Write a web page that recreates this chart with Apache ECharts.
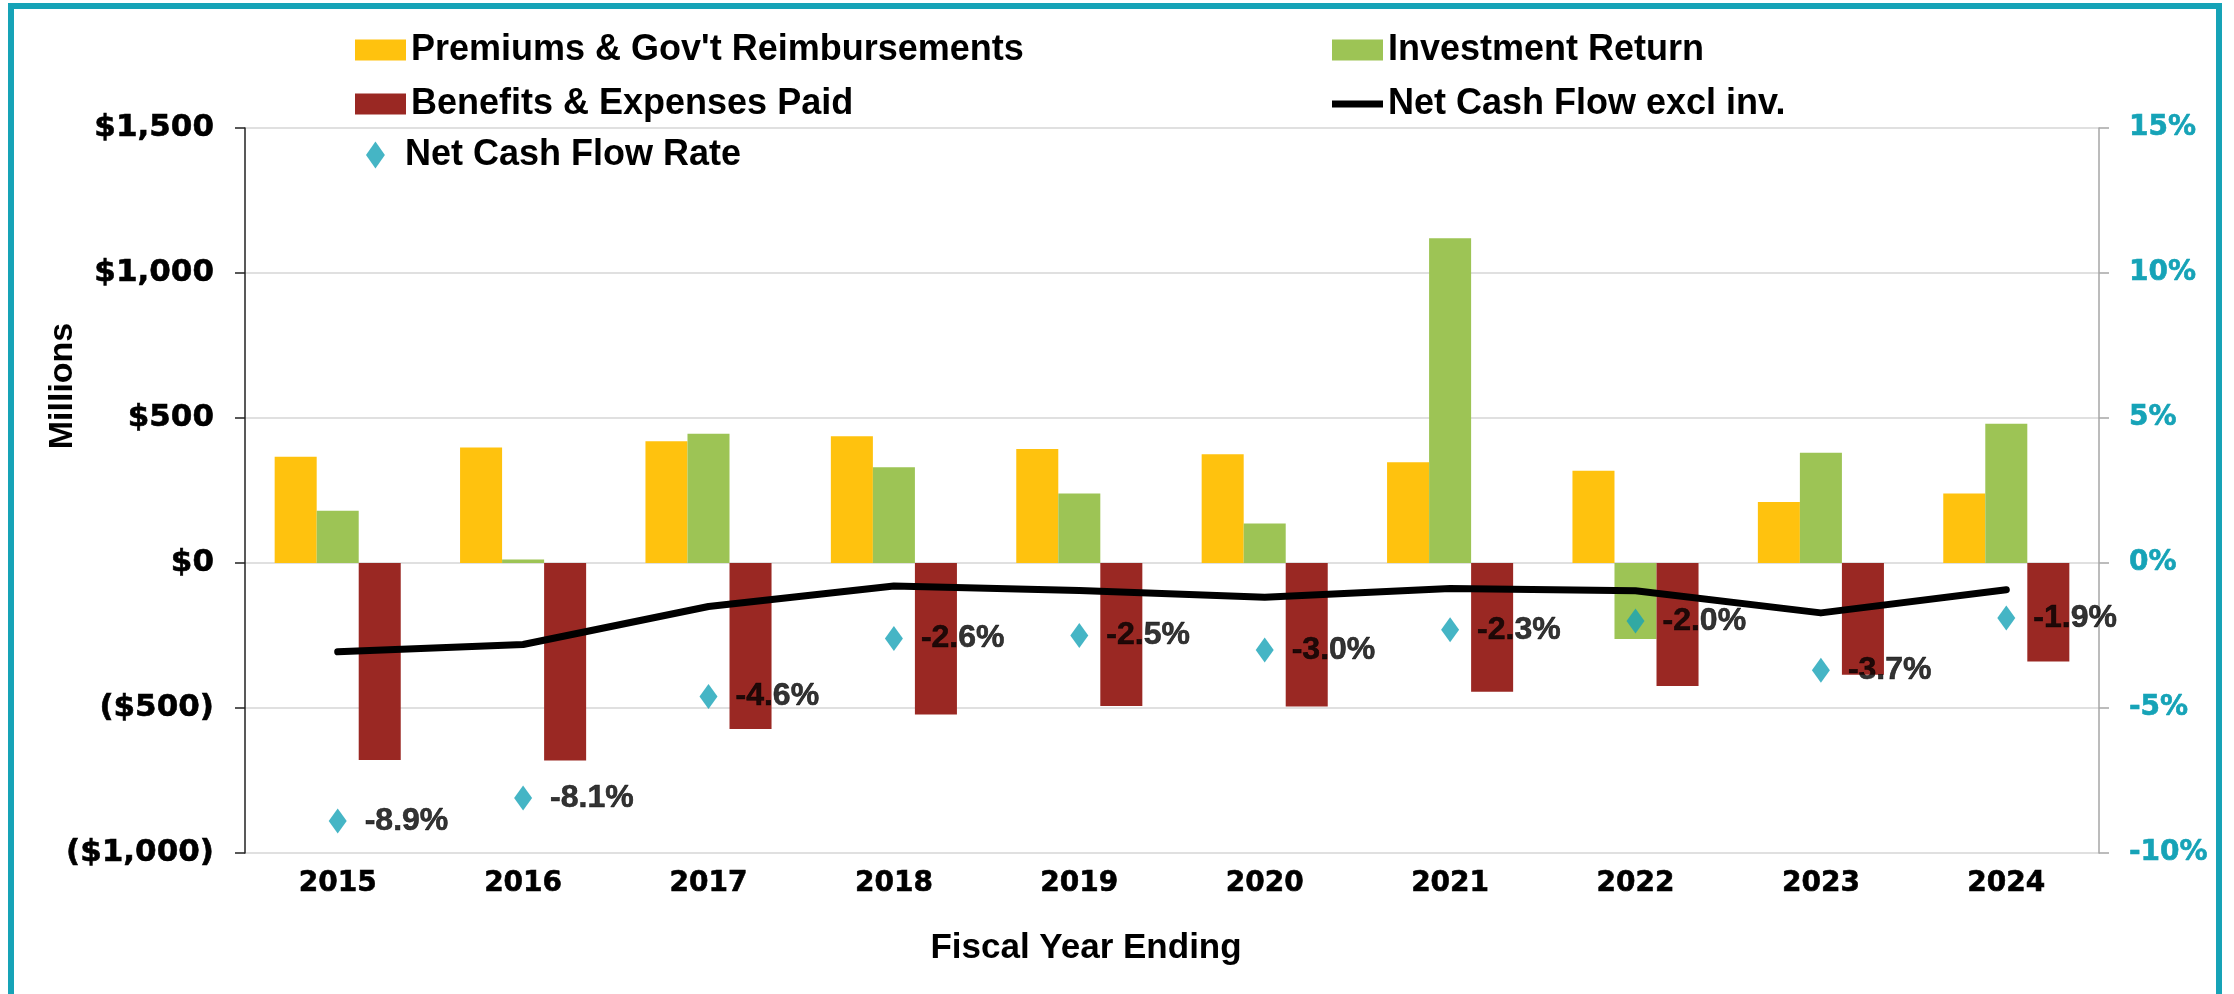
<!DOCTYPE html>
<html>
<head>
<meta charset="utf-8">
<script src="https://cdn.jsdelivr.net/npm/echarts@6/dist/echarts.min.js"></script>
<style>
  html, body { margin: 0; padding: 0; background: #ffffff; }
  #chart { width: 2234px; height: 994px; }
</style>
</head>
<body>
<div id="chart"></div>
<script>
// Fiscal years on the category axis
const years = ['2015', '2016', '2017', '2018', '2019', '2020', '2021', '2022', '2023', '2024'];

// Cash flows, $ millions
const premiums = [366, 398, 420, 437, 393, 375, 347, 318, 210, 240];
const investmentReturn = [180, 12, 446, 330, 240, 136, 1120, -262, 380, 480];
const benefitsPaid = [-679, -681, -572, -522, -493, -495, -444, -424, -385, -340];
const netCashFlowExclInv = [-306, -281, -150, -79, -95, -118, -88, -96, -172, -92];

// Net cash flow rate, percent
const netCashFlowRate = [-8.9, -8.1, -4.6, -2.6, -2.5, -3.0, -2.3, -2.0, -3.7, -1.9];

// Axis ranges
const moneyTicks = { min: -1000, max: 1500, interval: 500 };
const rateTicks = { min: -10, max: 15, interval: 5 };

const TEAL = '#16a3b7';
const TEXT_FONT = '"Liberation Sans", Arial, sans-serif';
const AXIS_FONT = '"DejaVu Sans", Verdana, sans-serif';
const DIAMOND = 'path://M7,0L14,10L7,20L0,10Z';

function money(v) {
  const s = Math.abs(v).toLocaleString('en-US');
  return v < 0 ? '($' + s + ')' : '$' + s;
}

const legendText = { fontFamily: TEXT_FONT, fontWeight: 'bold', fontSize: 36, color: '#000' };
function legendAt(name, left, top, extra) {
  return Object.assign({
    data: [name], left: left, top: top, padding: 0,
    itemWidth: 51, itemHeight: 21, icon: 'rect',
    textStyle: legendText, selectedMode: false
  }, extra || {});
}

const axisText = {
  fontFamily: AXIS_FONT, fontWeight: 'bold', fontSize: 28, color: '#000',
  textBorderColor: '#000', textBorderWidth: 0.6
};

const chart = echarts.init(document.getElementById('chart'), null, { renderer: 'canvas' });

chart.setOption({
  backgroundColor: '#ffffff',
  animation: false,
  grid: { left: 245, right: 135, top: 128, bottom: 141, containLabel: false },
  legend: [
    legendAt("Premiums & Gov't Reimbursements", 355, 32),
    legendAt('Benefits & Expenses Paid', 355, 86),
    legendAt('Net Cash Flow Rate', 366, 137, {
      icon: DIAMOND, itemWidth: 19, itemHeight: 27,
      textStyle: Object.assign({}, legendText, { padding: [0, 0, 0, 15] })
    }),
    legendAt('Investment Return', 1332, 32),
    legendAt('Net Cash Flow excl inv.', 1332, 86, { itemHeight: 7 })
  ],
  xAxis: {
    type: 'category',
    data: years,
    axisLine: { show: false },
    axisTick: { show: false },
    axisLabel: Object.assign({ margin: 17 }, axisText)
  },
  yAxis: [
    {
      type: 'value',
      min: moneyTicks.min, max: moneyTicks.max, interval: moneyTicks.interval,
      axisLine: { show: true, lineStyle: { color: '#222', width: 1.5 } },
      axisTick: { show: true, length: 10, lineStyle: { color: '#222', width: 1.5 } },
      splitLine: { show: true, lineStyle: { color: '#d6d6d6', width: 1.5 } },
      axisLabel: Object.assign({}, axisText, { margin: 31, fontSize: 31, formatter: money })
    },
    {
      type: 'value',
      position: 'right',
      min: rateTicks.min, max: rateTicks.max, interval: rateTicks.interval,
      axisLine: { show: true, lineStyle: { color: '#a6a6a6', width: 1.5 } },
      axisTick: { show: true, length: 10, lineStyle: { color: '#a6a6a6', width: 1.5 } },
      splitLine: { show: false },
      axisLabel: Object.assign({}, axisText, {
        margin: 30, color: TEAL, textBorderColor: TEAL,
        formatter: v => v + '%'
      })
    }
  ],
  series: [
    {
      name: "Premiums & Gov't Reimbursements",
      type: 'bar', data: premiums,
      barGap: '0%', barCategoryGap: '32%',
      itemStyle: { color: '#ffc20e' }
    },
    {
      name: 'Investment Return',
      type: 'bar', data: investmentReturn,
      itemStyle: { color: '#9dc455' }
    },
    {
      name: 'Benefits & Expenses Paid',
      type: 'bar', data: benefitsPaid,
      itemStyle: { color: '#9a2823' }
    },
    {
      name: 'Net Cash Flow excl inv.',
      type: 'line', data: netCashFlowExclInv,
      symbol: 'none',
      lineStyle: { color: '#000', width: 7, cap: 'round', join: 'round' },
      itemStyle: { color: '#000' },
      z: 5
    },
    {
      name: 'Net Cash Flow Rate',
      type: 'scatter', yAxisIndex: 1, data: netCashFlowRate,
      symbol: DIAMOND,
      symbolSize: [18, 25],
      itemStyle: { color: TEAL },
      label: {
        show: true, position: 'right', distance: 18,
        fontFamily: TEXT_FONT, fontWeight: 'bold', fontSize: 32, color: '#000',
        textBorderColor: '#000', textBorderWidth: 0.6,
        formatter: p => p.value.toFixed(1) + '%'
      },
      z: 6
    }
  ],
  graphic: [
    {
      type: 'rect', silent: true,
      shape: { x: 11, y: 6, width: 2208, height: 1100 },
      style: { fill: 'none', stroke: TEAL, lineWidth: 6 }
    },
    {
      type: 'text', silent: true,
      x: 63, y: 386, rotation: Math.PI / 2,
      style: {
        text: 'Millions', fontFamily: TEXT_FONT, fontWeight: 'bold', fontSize: 34,
        fill: '#000', align: 'center', verticalAlign: 'middle'
      }
    },
    {
      type: 'text', silent: true,
      x: 1086, y: 948,
      style: {
        text: 'Fiscal Year Ending', fontFamily: TEXT_FONT, fontWeight: 'bold', fontSize: 35,
        fill: '#000', align: 'center', verticalAlign: 'middle'
      }
    }
  ]
});
</script>
</body>
</html>
